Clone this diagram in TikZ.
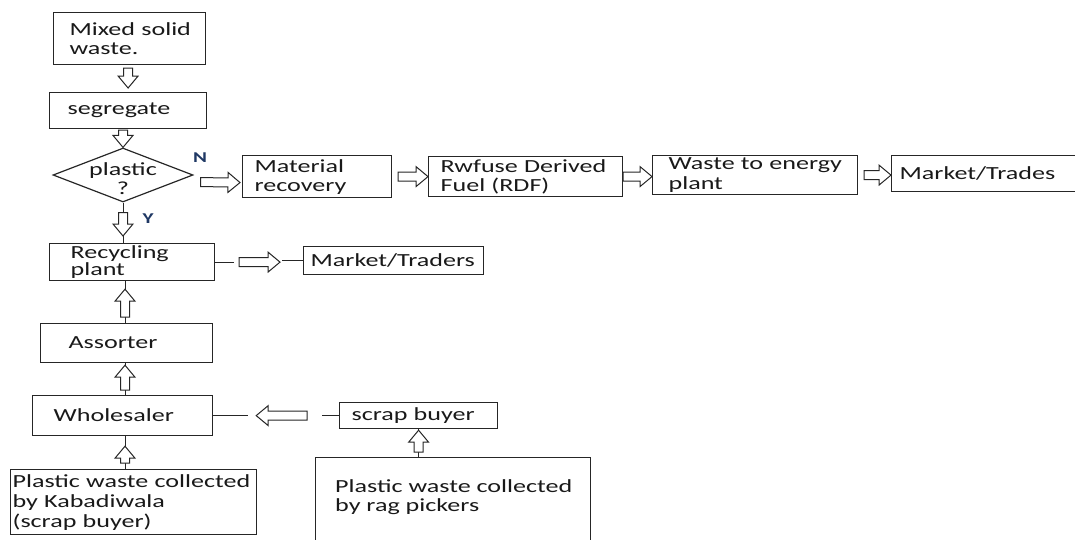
\documentclass[tikz,border=0pt]{standalone}
\usepackage{fontspec}
\setmainfont{Carlito}[FakeStretch=1.41]
\usepackage{xcolor}
\usepackage{tikz}
\usetikzlibrary{calc}
\usetikzlibrary{positioning}
\usetikzlibrary{shapes}

\definecolor{yesno}{RGB}{31,56,100}

\begin{document}
\begin{tikzpicture}[x=1pt, y=-1pt, font=\fontsize{18.5}{19}\selectfont, text=black!90,
	box/.style={rectangle, draw=black!85, line width=1.2pt, anchor=north west, align=left, inner ysep=0pt},
	decide/.style={diamond, draw=black!85, line width=1.2pt, minimum width=140pt, minimum height=54pt, inner sep=0pt},
	stub/.style={draw=black!85, line width=1pt},
	fat/.style 2 args={draw=black!85, line width=1pt, fill=white, to path={
		let \p1=($(\tikztostart)!#1pt!(\tikztotarget)$), \p2=($(\tikztotarget)!#2pt!(\tikztostart)$),
		\n1={atan2(\y2-\y1,\x2-\x1)}, \n2={veclen(\x2-\x1,\y2-\y1)} in
		($(\p1)+(\n1+90:4.5pt)$) -- ($(\p1)+(\n1:{\n2-12pt})+(\n1+90:4.5pt)$)
		-- ($(\p1)+(\n1:{\n2-12pt})+(\n1+90:10pt)$) -- (\p2)
		-- ($(\p1)+(\n1:{\n2-12pt})+(\n1-90:10pt)$) -- ($(\p1)+(\n1:{\n2-12pt})+(\n1-90:4.5pt)$)
		-- ($(\p1)+(\n1-90:4.5pt)$) -- cycle}},
	yn/.style={text=yesno, font=\fontsize{15}{15}\selectfont\bfseries, inner sep=0pt},
]
\useasboundingbox (0,0) rectangle (1075,539);
\coordinate (spine) at (125,0);
\node [box, minimum width=152pt, minimum height=52pt, inner xsep=16pt, text width=120pt] (mixed) at (53,12) {\mbox{Mixed solid}\\waste.};
\node [box, minimum width=157pt, minimum height=36pt, inner xsep=18pt, text width=121pt] (seg) at (49,92) {segregate};
\node [decide, label={[align=center, inner sep=0pt, yshift=-4pt]center:{plastic\\?}}] (plastic) at (123,175) {};
\node [yn] (no) at (200,158) {N};
\node [box, minimum width=149pt, minimum height=42pt, inner xsep=12pt, text width=125pt] (matrec) at (242,155) {Material\\recovery};
\node [box, minimum width=194pt, minimum height=40pt, inner xsep=12pt, text width=170pt] (rdf) at (428,156) {\mbox{Rwfuse Derived}\\Fuel (RDF)};
\node [box, minimum width=205pt, minimum height=39pt, inner xsep=16pt, text width=173pt, font=\fontsize{18.5}{20}\selectfont] (waste) at (652,155) {\mbox{Waste to energy}\\plant};
\node [box, minimum width=200pt, minimum height=36pt, inner xsep=8pt, text width=184pt] (mkt) at (891,155) {\mbox{Market/Trades}};
\node [yn] (yes) at (148,219) {Y};
\node [box, minimum width=165pt, minimum height=37pt, inner xsep=21pt, text width=123pt, font=\fontsize{18.5}{14}\selectfont] (recyc) at (49,243) {Recycling\\plant};
\node [box, minimum width=180pt, minimum height=28pt, inner xsep=7pt, text width=166pt] (traders) at (303,246) {\mbox{Market/Traders}};
\node [box, minimum width=172pt, minimum height=39pt, inner xsep=28pt, text width=116pt] (assort) at (40,323) {Assorter};
\node [box, minimum width=180pt, minimum height=40pt, inner xsep=21pt, text width=138pt] (whole) at (32,395) {Wholesaler};
\node [box, minimum width=158pt, minimum height=26pt, inner xsep=12pt, text width=134pt] (scrap) at (339,402) {scrap buyer};
\node [box, minimum width=246pt, minimum height=65pt, inner xsep=2pt, text width=242pt, font=\fontsize{18.5}{20}\selectfont] (kaba) at (10,469) {\mbox{Plastic waste collected}\\by Kabadiwala\\(scrap buyer)};
\node [box, minimum width=275pt, minimum height=100pt,
	label={[align=left, inner sep=0pt, anchor=north west, xshift=20pt, yshift=-22pt]north west:{Plastic waste collected\\by rag pickers}}] (rag) at (315,457) {};
%
\draw [fat={3}{4}] (seg.north |- mixed.south) to (seg.north);
\draw [fat={1}{0}] (seg.south -| plastic.north) to (plastic.north);
\draw [fat={7}{2}] ([yshift=-7pt]plastic.east) to ([yshift=-6pt]matrec.west);
\draw [fat={6}{0}] (matrec.east) to (matrec.east -| rdf.west);
\draw [fat={0}{0}] (rdf.east) to (rdf.east -| waste.west);
\draw [fat={6}{0}] (waste.east) to (waste.east -| mkt.west);
\draw [stub] (plastic.south) -- (plastic.south |- recyc.north);
\draw [fat={10}{7}] (plastic.south) to (plastic.south |- recyc.north);
\draw [stub] (recyc.east) -- ++(19,0);
\draw [stub] (traders.west) -- ++(-21,0);
\draw [fat={24}{23}] (recyc.east) to (recyc.east -| traders.west);
\draw [stub] (assort.north -| spine) -- (recyc.south -| spine);
\draw [fat={6}{8}] (assort.north -| spine) to (recyc.south -| spine);
\draw [stub] (whole.north -| spine) -- (assort.south -| spine);
\draw [fat={5}{2}] (whole.north -| spine) to (assort.south -| spine);
\draw [stub] (kaba.north -| spine) -- (whole.south -| spine);
\draw [fat={6}{10}] (kaba.north -| spine) to (whole.south -| spine);
\draw [stub] (whole.east) -- ++(35,0);
\draw [stub] (scrap.west) -- ++(-17,0);
\draw [fat={32}{43}] (scrap.west) to (scrap.west -| whole.east);
\draw [stub] (rag.north -| scrap.south) -- (scrap.south);
\draw [fat={5}{1}] (rag.north -| scrap.south) to (scrap.south);
\end{tikzpicture}
\end{document}
